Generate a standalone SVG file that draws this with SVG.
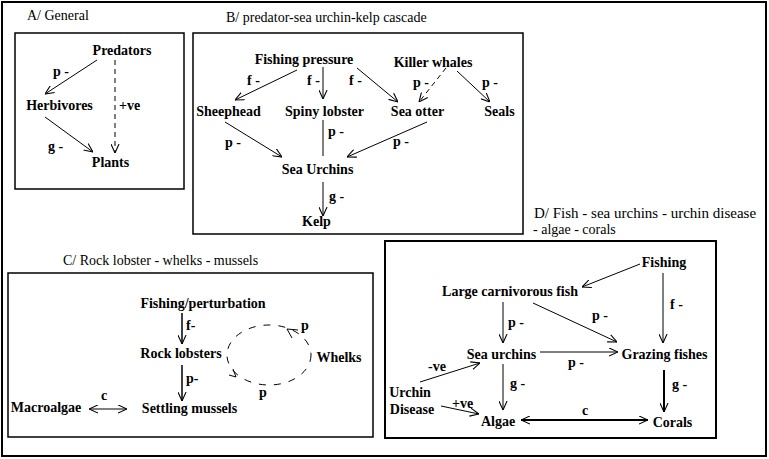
<svg xmlns="http://www.w3.org/2000/svg" width="769" height="459" viewBox="0 0 769 459">
<rect x="0" y="0" width="769" height="459" fill="#fff"/>
<rect x="2" y="2" width="764" height="454" fill="none" stroke="#000" stroke-width="2"/>
<g id="titles">
<text font-family="Times New Roman, serif" font-size="14" x="27" y="20">A/ General</text>
<text font-family="Times New Roman, serif" font-size="14" x="226" y="22">B/ predator-sea urchin-kelp cascade</text>
<text font-family="Times New Roman, serif" font-size="14" x="63" y="265">C/ Rock lobster - whelks - mussels</text>
<text font-family="Times New Roman, serif" font-size="15" x="534" y="218">D/ Fish - sea urchins - urchin disease</text>
<text font-family="Times New Roman, serif" font-size="14" x="533" y="234">- algae - corals</text>
</g>
<g id="panels" fill="none" stroke="#000" stroke-width="1.5">
<rect id="boxA" x="15" y="33" width="169" height="156"/>
<rect id="boxB" x="193" y="33" width="330" height="201"/>
<rect id="boxC" x="8" y="273" width="365" height="164"/>
<rect id="boxD" x="385" y="241" width="331" height="197" stroke-width="2"/>
</g>
<g id="nodes" text-anchor="middle">
<g id="A-predators"><text font-family="Times New Roman, serif" font-size="14" font-weight="bold" x="122" y="55">Predators</text></g>
<g id="A-herbivores"><text font-family="Times New Roman, serif" font-size="14" font-weight="bold" x="59.5" y="110">Herbivores</text></g>
<g id="A-plants"><text font-family="Times New Roman, serif" font-size="14" font-weight="bold" x="110.5" y="167">Plants</text></g>
<g id="B-fishing"><text font-family="Times New Roman, serif" font-size="14" font-weight="bold" x="304" y="64">Fishing pressure</text></g>
<g id="B-killerwhales"><text font-family="Times New Roman, serif" font-size="14" font-weight="bold" x="433" y="67">Killer whales</text></g>
<g id="B-sheephead"><text font-family="Times New Roman, serif" font-size="14" font-weight="bold" x="228.5" y="116">Sheephead</text></g>
<g id="B-spinylobster"><text font-family="Times New Roman, serif" font-size="14" font-weight="bold" x="324.5" y="116">Spiny lobster</text></g>
<g id="B-seaotter"><text font-family="Times New Roman, serif" font-size="14" font-weight="bold" x="417.5" y="116">Sea otter</text></g>
<g id="B-seals"><text font-family="Times New Roman, serif" font-size="14" font-weight="bold" x="499.5" y="116">Seals</text></g>
<g id="B-seaurchins"><text font-family="Times New Roman, serif" font-size="14" font-weight="bold" x="317.5" y="174">Sea Urchins</text></g>
<g id="B-kelp"><text font-family="Times New Roman, serif" font-size="14" font-weight="bold" x="316.5" y="226">Kelp</text></g>
<g id="C-fishing"><text font-family="Times New Roman, serif" font-size="14" font-weight="bold" x="203" y="308">Fishing/perturbation</text></g>
<g id="C-rocklobsters"><text font-family="Times New Roman, serif" font-size="14" font-weight="bold" x="181" y="358">Rock lobsters</text></g>
<g id="C-mussels"><text font-family="Times New Roman, serif" font-size="14" font-weight="bold" x="189.5" y="413">Settling mussels</text></g>
<g id="C-macroalgae"><text font-family="Times New Roman, serif" font-size="14" font-weight="bold" x="46" y="412">Macroalgae</text></g>
<g id="C-whelks"><text font-family="Times New Roman, serif" font-size="14" font-weight="bold" x="339" y="362">Whelks</text></g>
<g id="D-fishing"><text font-family="Times New Roman, serif" font-size="14" font-weight="bold" x="664" y="267">Fishing</text></g>
<g id="D-largefish"><text font-family="Times New Roman, serif" font-size="14" font-weight="bold" x="510" y="296">Large carnivorous fish</text></g>
<g id="D-seaurchins"><text font-family="Times New Roman, serif" font-size="14" font-weight="bold" x="501.5" y="359">Sea urchins</text></g>
<g id="D-grazing"><text font-family="Times New Roman, serif" font-size="14" font-weight="bold" x="664.5" y="359">Grazing fishes</text></g>
<g id="D-disease"><text font-family="Times New Roman, serif" font-size="14" font-weight="bold" x="410" y="397">Urchin</text><text font-family="Times New Roman, serif" font-size="14" font-weight="bold" x="412" y="414">Disease</text></g>
<g id="D-algae"><text font-family="Times New Roman, serif" font-size="14" font-weight="bold" x="498" y="426">Algae</text></g>
<g id="D-corals"><text font-family="Times New Roman, serif" font-size="14" font-weight="bold" x="672.5" y="427">Corals</text></g>
</g>
<defs>
<marker id="ah" viewBox="0 0 10 10" refX="10" refY="5" markerWidth="9" markerHeight="9" markerUnits="userSpaceOnUse" orient="auto">
<path d="M0,0.5 L10,5 L0,9.5" fill="none" stroke="#000" stroke-width="1.2"/>
</marker>
<marker id="as" viewBox="0 0 10 10" refX="0" refY="5" markerWidth="9" markerHeight="9" markerUnits="userSpaceOnUse" orient="auto">
<path d="M10,0.5 L0,5 L10,9.5" fill="none" stroke="#000" stroke-width="1.2"/>
</marker>
</defs>
<g id="connectors" stroke="#000" stroke-width="1" fill="none">
<line marker-end="url(#ah)" x1="97" y1="60" x2="45" y2="94"/>
<line marker-end="url(#ah)" x1="45" y1="117" x2="93" y2="152"/>
<line marker-end="url(#ah)" stroke-dasharray="5,4" x1="115" y1="60" x2="115" y2="153"/>
<line marker-end="url(#ah)" x1="297" y1="70" x2="235" y2="100"/>
<line marker-end="url(#ah)" x1="323" y1="67" x2="323" y2="99"/>
<line marker-end="url(#ah)" x1="357" y1="68" x2="398" y2="102"/>
<line marker-end="url(#ah)" stroke-dasharray="5,4" x1="446" y1="68" x2="419" y2="102"/>
<line marker-end="url(#ah)" x1="457" y1="71" x2="490" y2="102"/>
<line marker-end="url(#ah)" x1="225" y1="122" x2="282" y2="157"/>
<line x1="323" y1="120" x2="323" y2="156"/>
<line marker-end="url(#ah)" x1="427" y1="122" x2="347" y2="157"/>
<line marker-end="url(#ah)" x1="323" y1="182" x2="323" y2="216"/>
<line marker-end="url(#ah)" x1="182" y1="313" x2="182" y2="344" stroke-width="1.5"/>
<line marker-end="url(#ah)" x1="182" y1="365" x2="182" y2="401" stroke-width="1.5"/>
<line x1="89" y1="409" x2="127" y2="409" marker-start="url(#as)" marker-end="url(#ah)"/>
<ellipse cx="269" cy="355" rx="42" ry="30" stroke-dasharray="7,8"/>
<path d="M298,330 L287,329 L292,338"/>
<path d="M229,375 L236,377 L233,369"/>
<line marker-end="url(#ah)" x1="640" y1="264" x2="582" y2="287"/>
<line marker-end="url(#ah)" x1="663" y1="273" x2="663" y2="343"/>
<line marker-end="url(#ah)" x1="503" y1="302" x2="503" y2="343"/>
<line marker-end="url(#ah)" x1="533" y1="303" x2="617" y2="342"/>
<line marker-end="url(#ah)" x1="540" y1="352" x2="618" y2="352"/>
<line marker-end="url(#ah)" x1="503" y1="364" x2="503" y2="410"/>
<line marker-end="url(#ah)" x1="420" y1="382" x2="480" y2="363"/>
<line marker-end="url(#ah)" x1="441" y1="406" x2="479" y2="414"/>
<line stroke-width="2" x1="521" y1="420" x2="648" y2="420" marker-start="url(#as)" marker-end="url(#ah)"/>
<line marker-end="url(#ah)" stroke-width="2" x1="664" y1="370" x2="664" y2="412"/>
</g>
<g id="labels">
<text font-family="Times New Roman, serif" font-size="14" font-weight="bold" x="53" y="76">p -</text>
<text font-family="Times New Roman, serif" font-size="14" font-weight="bold" x="119" y="110">+ve</text>
<text font-family="Times New Roman, serif" font-size="14" font-weight="bold" x="48" y="151">g -</text>
<text font-family="Times New Roman, serif" font-size="14" font-weight="bold" x="247" y="85">f -</text>
<text font-family="Times New Roman, serif" font-size="14" font-weight="bold" x="307" y="85">f -</text>
<text font-family="Times New Roman, serif" font-size="14" font-weight="bold" x="349" y="85">f -</text>
<text font-family="Times New Roman, serif" font-size="14" font-weight="bold" x="413" y="87">p -</text>
<text font-family="Times New Roman, serif" font-size="14" font-weight="bold" x="482" y="87">p -</text>
<text font-family="Times New Roman, serif" font-size="14" font-weight="bold" x="225" y="147">p -</text>
<text font-family="Times New Roman, serif" font-size="14" font-weight="bold" x="328" y="136">p -</text>
<text font-family="Times New Roman, serif" font-size="14" font-weight="bold" x="393" y="146">p -</text>
<text font-family="Times New Roman, serif" font-size="14" font-weight="bold" x="329" y="201">g -</text>
<text font-family="Times New Roman, serif" font-size="14" font-weight="bold" x="186" y="330">f-</text>
<text font-family="Times New Roman, serif" font-size="14" font-weight="bold" x="186" y="383">p-</text>
<text font-family="Times New Roman, serif" font-size="14" font-weight="bold" x="101" y="400">c</text>
<text font-family="Times New Roman, serif" font-size="14" font-weight="bold" x="301" y="330">p</text>
<text font-family="Times New Roman, serif" font-size="14" font-weight="bold" x="259" y="397">p</text>
<text font-family="Times New Roman, serif" font-size="14" font-weight="bold" x="670" y="309">f -</text>
<text font-family="Times New Roman, serif" font-size="14" font-weight="bold" x="508" y="327">p -</text>
<text font-family="Times New Roman, serif" font-size="14" font-weight="bold" x="592" y="320">p -</text>
<text font-family="Times New Roman, serif" font-size="14" font-weight="bold" x="568" y="367">p -</text>
<text font-family="Times New Roman, serif" font-size="14" font-weight="bold" x="428" y="371">-ve</text>
<text font-family="Times New Roman, serif" font-size="14" font-weight="bold" x="510" y="388">g -</text>
<text font-family="Times New Roman, serif" font-size="14" font-weight="bold" x="672" y="389">g -</text>
<text font-family="Times New Roman, serif" font-size="14" font-weight="bold" x="452" y="408">+ve</text>
<text font-family="Times New Roman, serif" font-size="14" font-weight="bold" x="582" y="415">c</text>
</g>
</svg>
